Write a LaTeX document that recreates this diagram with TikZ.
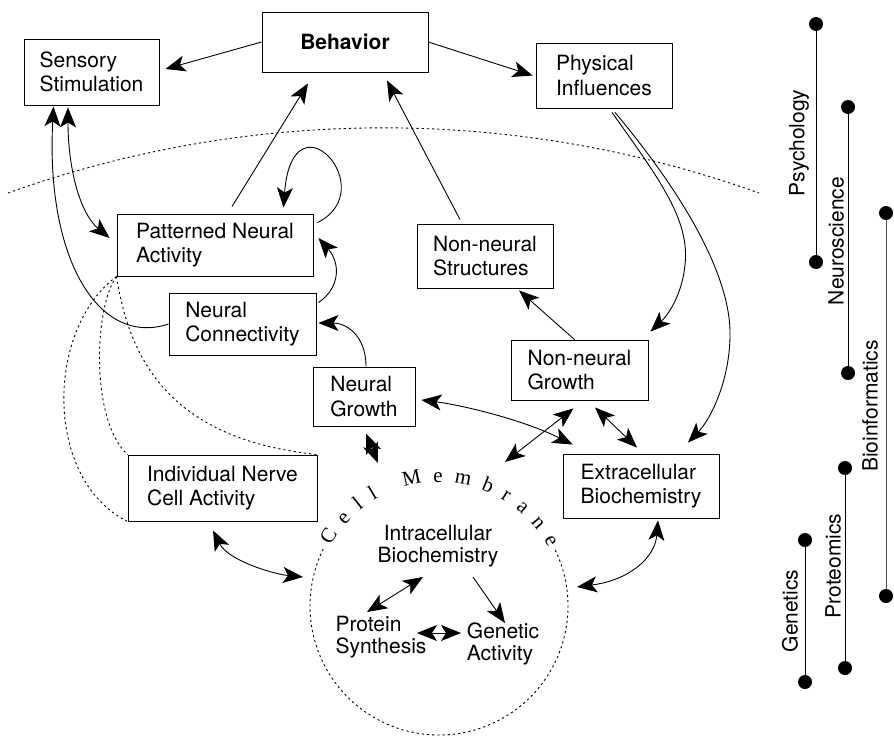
\documentclass[tikz,border=0pt]{standalone}
\usepackage{fontspec}
\setmainfont{TeX Gyre Heros}
\newfontfamily\membranefont{Liberation Serif}
\usetikzlibrary{arrows.meta,calc,decorations.text}

\begin{document}
\begin{tikzpicture}[
  x=1pt, y=-1pt,
  font=\fontsize{21}{24.5}\selectfont,
  line width=0.9pt,
  head/.tip={Stealth[length=20pt,width=16pt,inset=5pt]},
  box/.style={
    draw,
    align=left,
    inner sep=0pt
  },
  inner/.style={inner sep=0pt, font=\fontsize{21}{22}\selectfont},
  arrow/.style={-head},
  twoway/.style={head-head},
  dotline/.style={dash pattern=on 2.2pt off 3pt},
  dot/.style={circle, fill, inner sep=0pt, minimum size=14pt},
  track/.style={line width=1pt},
  field/.style={rotate=90, inner sep=0pt}
]

\useasboundingbox (0,0) rectangle (894,736);

\node[box, minimum width=166, minimum height=60, font=\fontsize{21}{24.5}\selectfont\bfseries] (beh) at (345,42) {Behavior};
\node[box, minimum width=135, minimum height=66] (sens) at (91.5,72) {Sensory\\Stimulation};
\node[box, minimum width=136, minimum height=65] (phys) at (604,75.5) {Physical\\Influences};
\node[box, minimum width=196, minimum height=62] (pna) at (215,245) {Patterned Neural\\Activity};
\node[box, minimum width=147, minimum height=62] (ncon) at (242.5,324) {Neural\\Connectivity};
\node[box, minimum width=102, minimum height=59] (ngro) at (364,396.5) {Neural\\Growth};
\node[box, minimum width=189, minimum height=66] (inca) at (222.5,488) {Individual Nerve\\Cell Activity};
\node[box, minimum width=136, minimum height=64] (nns) at (485,256) {Non-neural\\Structures};
\node[box, minimum width=137, minimum height=60] (nng) at (579.5,370) {Non-neural\\Growth};
\node[box, minimum width=156, minimum height=64] (ecb) at (641,486) {Extracellular\\Biochemistry};

\coordinate (cell) at (439,606);
\node[inner, align=center] (ib) at (438,546) {Intracellular\\Biochemistry};
\node[inner, align=left] (ps) at (381,637) {Protein\\Synthesis};
\node[inner, align=left] (ga) at (503,644) {Genetic\\Activity};

\draw[dotline] (8,193) arc[start angle=-109.7, end angle=-70.3, radius=1114];
\draw[dotline] ($(cell)+(-25.7:129)$) arc[start angle=-25.7, end angle=206.8, radius=129];
\path[decorate, decoration={text along path, text align={fit to path},
  text={|\membranefont\fontsize{21}{21}\selectfont|Cell Membrane}}]
  ($(cell)+(209:124)$) arc[start angle=209, end angle=332, radius=124];

\draw[arrow] (beh.west) -- ($(sens.east)+(6,-3)$);
\draw[arrow] (beh.east) -- ($(phys.west)+(-3,0)$);
\draw[arrow] ($(pna.north)+(17,-7)$) -- ($(beh.south)+(-37,11)$);
\draw[arrow] ($(nns.north)+(-25,-4)$) -- ($(beh.south)+(42,8)$);
\draw[arrow] ($(pna.north east)+(4,9)$) .. controls +(66,-33) and +(9,-118) .. ($(pna.north east)+(-30,-6)$);
\draw[arrow] ($(ncon.north east)+(2,10)$) .. controls +(22,-15) and +(22,25) .. ($(pna.east)+(5,-7)$);
\draw[arrow] ($(ngro.north)+(2,0)$) .. controls +(0,-32) and +(27,0) .. ($(ncon.east)+(2,-1)$);
\draw[arrow] (ncon.west) .. controls +(-69,23) and +(-8,154) .. ($(sens.south)+(-38,1)$);
\draw[twoway] ($(sens.south)+(-23.5,2)$) .. controls +(0,60) and +(-30,-25) .. ($(pna.west)+(-7,-7)$);

\draw[dotline] (pna.south west) .. controls +(-22,29) and +(-38,-35) .. (inca.north west);
\draw[dotline] (pna.south west) .. controls +(-72,54) and +(-83,-41) .. (inca.south west);
\draw[dotline] (pna.south west) .. controls +(13,84) and +(-147,-15) .. (inca.north east);

\draw[twoway] ($(ngro.south)+(2,7)$) -- ($(cell)+(-61,-143)$);
\draw[twoway] ($(ngro.east)+(6,3.5)$) .. controls +(40,5) and +(-50,-25) .. ($(ecb.north west)+(10,-9)$);
\draw[twoway] ($(nng.south)+(-6,8)$) -- ($(cell)+(66,-144)$);
\draw[twoway] ($(nng.south)+(15.5,7)$) -- ($(ecb.north)+(-4,-6)$);
\draw[arrow] ($(nng.north)+(-5,0)$) -- ($(nns.south)+(34,2)$);
\draw[arrow] ($(phys.south)+(8,4)$) .. controls (660,180) and (690,220) .. (685,265)
  .. controls (682,295) and (668,315) .. ($(nng.north east)+(2,-8)$);
\draw[arrow] ($(phys.south)+(11,4)$) .. controls (680,190) and (728,270) .. (730,330)
  .. controls (731,380) and (710,420) .. ($(ecb.north)+(47,-11)$);
\draw[twoway] ($(inca.south)+(-9.5,9)$) .. controls +(15,30) and +(-30,-3) .. ($(cell)+(-136,-29)$);
\draw[twoway] ($(ecb.south)+(17,2)$) .. controls +(-3,37) and +(53,-7) .. ($(cell)+(138,-19)$);

\draw[twoway] ($(ib.center)+(-15,31)$) -- ($(ps.center)+(-14,-25)$);
\draw[arrow] ($(ib.center)+(35,31)$) -- ($(ga.center)+(2,-21)$);
\draw[twoway] ($(ps.center)+(36,-4)$) -- ($(ga.center)+(-42,-11)$);

\node[dot] (psyA) at (816,24) {};
\node[dot] (psyB) at (816,262) {};
\node[dot] (neuA) at (848,107) {};
\node[dot] (neuB) at (848,373) {};
\node[dot] (bioA) at (886,213) {};
\node[dot] (bioB) at (886,596) {};
\node[dot] (proA) at (845,468) {};
\node[dot] (proB) at (845,668) {};
\node[dot] (genA) at (805,540) {};
\node[dot] (genB) at (805,682) {};
\draw[track] (psyA) -- (psyB);
\draw[track] (neuA) -- (neuB);
\draw[track, draw=black!70] (bioA) -- (bioB);
\draw[track] (proA) -- (proB);
\draw[track] (genA) -- (genB);

\node[field] (psyL) at (799,143) {Psychology};
\node[field] (neuL) at (836,241) {Neuroscience};
\node[field] (bioL) at (870,406) {Bioinformatics};
\node[field] (proL) at (833,566) {Proteomics};
\node[field] (genL) at (790,611) {Genetics};

\end{tikzpicture}
\end{document}
